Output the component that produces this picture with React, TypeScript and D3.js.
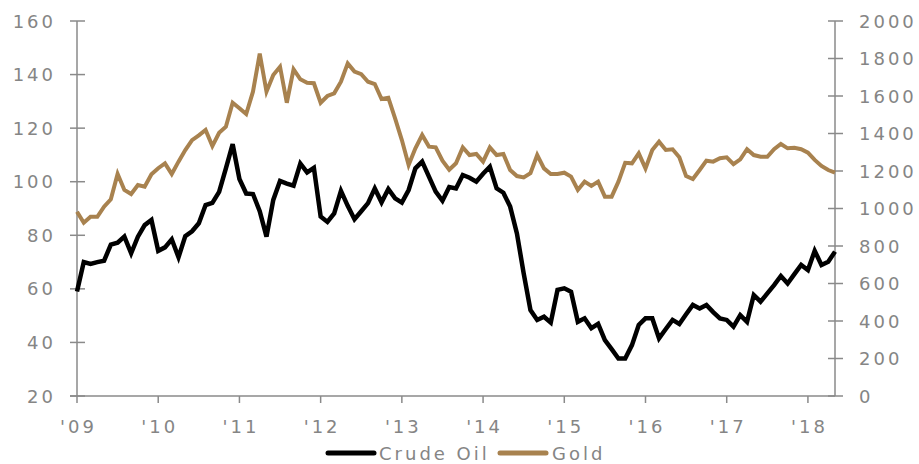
import React from "react";
import * as d3 from "d3";

// Monthly observations, Jan 2009 – May 2018
const startYear = 2009;
const crudeOil: number[] = [
  59, 70, 69.3, 70, 70.5, 76.5, 77.2, 79.5, 73.3, 79.5, 83.8, 85.7,
  74.2, 75.5, 78.5, 71.8, 79.7, 81.5, 84.5, 91.3, 92.1, 96.2, 105, 114,
  101, 95.6, 95.4, 89, 79.5, 93.2, 100.3, 99.3, 98.5, 106.8, 103.5, 105.2,
  87, 85, 88.2, 96.6, 91, 86, 89, 92, 97.5, 92.3, 97.3, 93.8,
  92.2, 96.9, 105, 107.5, 101.9, 96.3, 92.9, 98, 97.5, 102.5, 101.5, 100,
  103, 105.6, 97.5, 95.9, 90.7, 80.7, 65.8, 52.1, 48.4, 49.6, 47.4, 59.6,
  60.2, 58.9, 47.7, 49, 45.3, 46.9, 40.9, 37.5, 34, 34, 39, 46.5,
  49, 49, 41.5, 45, 48.4, 46.9, 50.5, 54, 52.7, 54, 51.3, 49,
  48.4, 45.9, 50.2, 47.7, 57.7, 55.2, 58.3, 61.4, 64.8, 62, 65.5, 68.9,
  67, 74.2, 68.9, 70.1, 73.9,
];
const gold: number[] = [
  983, 924, 956, 956, 1010, 1049, 1184, 1099, 1077, 1125, 1116, 1182,
  1215, 1241, 1184, 1250, 1312, 1365, 1390, 1419, 1333, 1404, 1436, 1564,
  1535, 1504, 1623, 1826, 1623, 1712, 1756, 1564, 1742, 1689, 1671, 1668,
  1564, 1600, 1614, 1676, 1774, 1730, 1716, 1676, 1664, 1584, 1591, 1481,
  1365, 1232, 1321, 1392, 1330, 1326, 1255, 1207, 1241, 1326, 1285, 1291,
  1250, 1326, 1285, 1291, 1205, 1173, 1166, 1188, 1285, 1214, 1184, 1184,
  1191, 1170, 1099, 1143, 1120, 1143, 1063, 1063, 1143, 1244, 1241, 1294,
  1214, 1312, 1356, 1312, 1316, 1273, 1173, 1157, 1205, 1255, 1250, 1268,
  1273, 1237, 1262, 1316, 1285, 1276, 1276, 1316, 1344, 1321, 1324, 1316,
  1298, 1259, 1227, 1205, 1191,
];
const leftTicks = [20, 40, 60, 80, 100, 120, 140, 160];
const rightTicks = [0, 200, 400, 600, 800, 1000, 1200, 1400, 1600, 1800, 2000];
const yearLabels = ["'09", "'10", "'11", "'12", "'13", "'14", "'15", "'16", "'17", "'18"];
const seriesNames = ["Crude Oil", "Gold"];

const W = 919;
const H = 464;
const L = 77;
const R = 835;
const T = 21;
const B = 396;
const AXIS = "#8a8a8a";
const TEXT = "#858585";
const GOLD = "#a8824f";
const FONT = "'DejaVu Sans', sans-serif";

export default function App() {
  const n = crudeOil.length;
  const x = d3.scaleLinear().domain([0, n - 1]).range([L, R]);
  const yL = d3.scaleLinear().domain([20, 160]).range([B, T]);
  const yR = d3.scaleLinear().domain([0, 2000]).range([B, T]);
  const oilLine = d3
    .line<number>()
    .x((_, i) => x(i))
    .y((d) => yL(d));
  const goldLine = d3
    .line<number>()
    .x((_, i) => x(i))
    .y((d) => yR(d));

  const textStyle = {
    fontFamily: FONT,
    fontSize: 18,
    letterSpacing: 3,
    fill: TEXT,
  } as const;

  return (
    <svg
      width={W}
      height={H}
      style={{ position: "absolute", left: 0, top: 0, background: "#fff" }}
    >
      <rect x={0} y={0} width={W} height={H} fill="#fff" />
      {/* left axis */}
      <line x1={L} x2={L} y1={T} y2={B} stroke={AXIS} strokeWidth={1.5} />
      {leftTicks.map((t) => (
        <g key={"l" + t}>
          <line x1={L - 7} x2={L + 8} y1={yL(t)} y2={yL(t)} stroke={AXIS} strokeWidth={1.5} />
          <text x={56} y={yL(t)} textAnchor="end" dominantBaseline="central" {...textStyle}>
            {t}
          </text>
        </g>
      ))}
      {/* right axis */}
      <line x1={R} x2={R} y1={T} y2={B} stroke={AXIS} strokeWidth={1.5} />
      {rightTicks.map((t) => (
        <g key={"r" + t}>
          <line x1={R - 7} x2={R + 8} y1={yR(t)} y2={yR(t)} stroke={AXIS} strokeWidth={1.5} />
          <text x={859} y={yR(t)} textAnchor="start" dominantBaseline="central" {...textStyle}>
            {t}
          </text>
        </g>
      ))}
      {/* bottom axis */}
      <line x1={L - 7} x2={R} y1={B} y2={B} stroke={AXIS} strokeWidth={1.5} />
      {yearLabels.map((lab, k) => {
        const xi = x(k * 12);
        return (
          <g key={lab}>
            <line x1={xi} x2={xi} y1={B} y2={B + 7} stroke={AXIS} strokeWidth={1.5} />
            <text x={xi + 1.5} y={433} textAnchor="middle" {...textStyle}>
              {lab}
            </text>
          </g>
        );
      })}
      {/* series */}
      <path d={goldLine(gold) || ""} fill="none" stroke={GOLD} strokeWidth={4} strokeLinejoin="miter" />
      <path d={oilLine(crudeOil) || ""} fill="none" stroke="#000" strokeWidth={4.5} strokeLinejoin="miter" />
      {/* legend */}
      <line x1={328} x2={374} y1={453} y2={453} stroke="#000" strokeWidth={5} strokeLinecap="round" />
      <text x={379} y={460} {...textStyle}>
        {seriesNames[0]}
      </text>
      <line x1={500} x2={546} y1={453} y2={453} stroke={GOLD} strokeWidth={5} strokeLinecap="round" />
      <text x={552} y={460} {...textStyle}>
        {seriesNames[1]}
      </text>
    </svg>
  );
}
